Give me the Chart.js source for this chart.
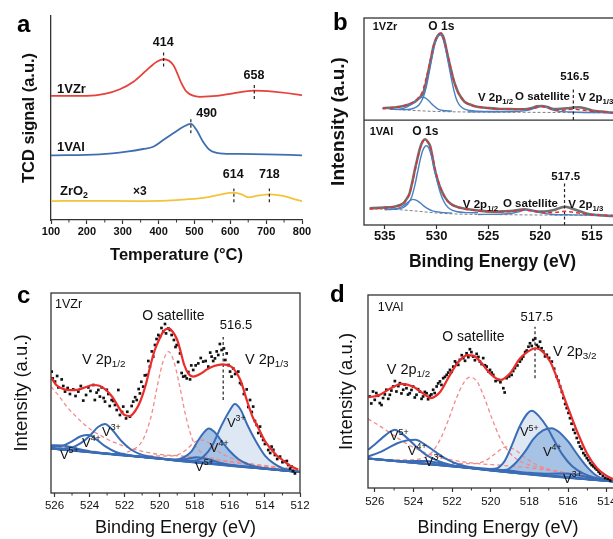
<!DOCTYPE html>
<html><head><meta charset="utf-8">
<script src="https://cdn.jsdelivr.net/npm/chart.js@4.4.1/dist/chart.umd.min.js"></script>
<style>
html,body{margin:0;padding:0;background:#fff;overflow:hidden;width:613px;height:539px;position:relative;}
canvas{position:absolute;}
</style></head>
<body>
<canvas id="ca" width="315" height="270" style="left:0;top:0;width:315px;height:270px"></canvas>
<canvas id="cb" width="330" height="275" style="left:300px;top:0;width:330px;height:275px"></canvas>
<canvas id="cc" width="310" height="269" style="left:0;top:270px;width:310px;height:269px"></canvas>
<canvas id="cd" width="340" height="269" style="left:300px;top:270px;width:340px;height:269px"></canvas>
<script>
// ================= DATA =================
// ---- Panel a : H2-TPR (x = temperature, y = TCD signal a.u.)
const aTicks = [100,200,300,400,500,600,700,800];
const aMinor = [150,250,350,450,550,650,750];
const a1VZr = [[100,60.8],[200,60.8],[250,61.8],[292,64.1],[330,67.8],[367,73.5],[395,77.6],[414,78.8],[441,76.0],[464,67.0],[478,62.9],[515,60.4],[562,60.8],[608,62.1],[665,63.4],[720,62.9],[794,61.3],[800,61.1]];
const a1VAl = [[100,31.7],[236,32.2],[311,33.5],[357,34.8],[385,35.9],[413,39.2],[441,42.5],[469,45.7],[490,47.1],[506,44.1],[524,38.4],[543,34.3],[571,32.7],[627,32.4],[701,32.2],[800,31.7]];
const aZrO2 = [[100,9.3],[200,9.4],[330,9.3],[423,9.5],[478,10.1],[534,11.1],[571,12.4],[608,13.4],[632,12.6],[650,11.1],[673,11.8],[711,12.6],[748,11.8],[776,10.4],[800,9.3]];
const aPeakMarks = [[414,75.2,82.5],[667,59.3,67],[490,42.5,49.9],[610,8.7,15.5],[709,8.7,15.5]];
const aLabels = [
  {t:'1VZr', x:116.7, y:64.2, size:13, weight:'bold'},
  {t:'1VAl', x:116.7, y:35.8, size:13, weight:'bold'},
  {t:'ZrO_{2}', x:125, y:14.2, size:13, weight:'bold'},
  {t:'×3', x:348, y:13.7, size:12, weight:'bold', align:'center'},
  {t:'414', x:413, y:86.9, size:12.5, weight:'bold', align:'center'},
  {t:'658', x:666, y:70.6, size:12.5, weight:'bold', align:'center'},
  {t:'490', x:534, y:52, size:12.5, weight:'bold', align:'center'},
  {t:'614', x:608, y:22.1, size:12.5, weight:'bold', align:'center'},
  {t:'718', x:709, y:22.1, size:12.5, weight:'bold', align:'center'}
];

// ---- Panel b : XPS O1s + V2p survey (top 1VZr offset, bottom 1VAl)
const bTicks = [515,520,525,530,535];
const bTopTotal = [[535.2,112.8],[534.5,113.3],[533.9,113.7],[533.2,115],[532.6,116.6],[532.1,119],[531.8,121.4],[531.5,124.5],[531.3,127.2],[531.05,136],[530.8,148.1],[530.55,160],[530.3,172.3],[530.1,178.5],[529.9,182.6],[529.6,185.2],[529.3,180.4],[529.1,172],[528.9,162.6],[528.65,152],[528.4,141.7],[528.15,134],[527.9,127.8],[527.6,123],[527.3,119.1],[526.7,116.2],[526.1,114.3],[525,113],[523.9,112.1],[522.5,111.9],[521.6,111.8],[520.8,113],[520.3,114.6],[519.8,115],[519.3,114],[518.7,112.1],[518,112.3],[517.4,112.8],[516.8,113.5],[516.3,113.7],[515.6,112.5],[514.9,110.4],[514,109.5],[513,108.5],[512.2,108.2]];
const bTopFit = [[535.2,112.5],[534,113.5],[533,115.5],[532.3,118.5],[531.8,122.5],[531.4,128],[531.1,138],[530.8,150],[530.5,164],[530.2,176],[529.9,183],[529.6,185],[529.3,180],[529,168],[528.7,154],[528.4,142],[528.1,132],[527.8,125.5],[527.4,120],[526.8,116.3],[526,114],[525,112.8],[523.5,112],[522,111.6],[521,112.2],[520.3,113.6],[519.8,114.2],[519.2,113],[518.5,110.8],[517.5,111.2],[516.8,111.8],[516,111.2],[515,110],[514,109.2],[512.2,108.4]];
const bTopMain = [[534.5,111.9],[533,111.5],[532.2,112.8],[531.7,116],[531.3,123],[531,133],[530.7,148],[530.4,164],[530.1,177],[529.8,183],[529.6,183.5],[529.35,179],[529.1,169],[528.85,156],[528.6,143],[528.35,131],[528.1,122],[527.8,116],[527.4,112.5],[526.8,110.6],[526,110],[524,109.6]];
const bTopShoulder = [[534,111.5],[533.3,112.3],[532.8,114.3],[532.3,117.5],[531.9,121],[531.55,123.2],[531.3,123.4],[531.0,122.2],[530.7,119.5],[530.3,115.5],[529.9,112.3],[529.4,110.6],[528.5,110]];
const bTopSat = [[527,109.3],[523,109.4],[521.8,110.0],[521,111.2],[520.4,113.2],[519.9,114.6],[519.4,113.6],[518.9,111.5],[518.3,110],[517,109.2],[512.2,108.4]];
const bTopBg = [[535.2,112.6],[533,111.1],[530,109.7],[527,109.2],[520,108.8],[512.2,108.3]];
const bBotTotal = [[536.45,16.1],[535.5,16.6],[534.8,17],[534.2,17.4],[533.6,19],[533.2,21],[532.9,25],[532.6,30.6],[532.35,41],[532.1,53.1],[531.85,64],[531.6,74.1],[531.35,80.5],[531.1,82.8],[530.85,80.5],[530.6,75.7],[530.4,66],[530.2,54.8],[529.85,42],[529.5,32.9],[529.1,25.5],[528.7,21],[528,17.5],[527.1,15.5],[526,14],[524.5,12.9],[523.5,13.2],[522.6,13.8],[522,14.8],[521.5,15.2],[520.8,14],[520,12.9],[519.3,13.3],[518.7,14.5],[518.1,16.5],[517.6,17.7],[517.1,16.5],[516.5,14.5],[515.9,12.3],[515.2,10.3],[514.4,9.5],[513.6,9],[512.2,8.5]];
const bBotFit = [[536.45,15.8],[535,16.4],[534,17.5],[533.3,20],[532.9,24.5],[532.6,30.5],[532.3,42],[532,56],[531.7,70],[531.4,79.5],[531.15,82.5],[530.9,81],[530.65,76],[530.4,67],[530.15,55],[529.85,43],[529.5,33],[529.1,25],[528.6,20],[528,17],[527,15],[525.5,13.2],[524,12.6],[523,12.9],[522.2,13.6],[521.5,14.4],[520.8,13.6],[520,12.3],[519,11.8],[518,12.8],[517.5,13.2],[517,12.6],[516,11],[515,9.8],[513.5,9.2],[512.2,8.8]];
const bBotMain = [[535,15.2],[533.8,15.4],[533.3,16.5],[532.8,20],[532.4,27],[532.1,38],[531.85,50],[531.6,62],[531.35,71.5],[531.1,76],[530.95,76.6],[530.75,74.5],[530.5,67],[530.25,56],[530,45],[529.75,35],[529.45,26],[529.1,19.5],[528.7,15.5],[528.1,13],[527.2,12],[526,11.8]];
const bBotShoulder = [[535,14.8],[534.2,15.2],[533.6,16.6],[533.2,18.6],[532.8,21.6],[532.5,23.9],[532.3,24.8],[532.05,24.3],[531.7,22.4],[531.3,19],[530.9,16],[530.4,13.7],[529.6,12.2],[528.5,11.5]];
const bBotSat = [[526,10.2],[523.5,10.6],[522.6,11.6],[522,13],[521.4,14.6],[520.9,14.2],[520.3,12.6],[519.6,11.2],[518.8,10.2],[517,9.8],[515,9.5],[512.2,9.2]];
const bBotBg = [[536.45,15.5],[534,15],[532,13.5],[530,11.6],[528,10.6],[524,10],[512.2,9.2]];
const bPeakMarks = [[516.8,101.4,133],[517.65,0,40]];
const bDivider = 101.4;
const bLabels = [
  {t:'1VZr', x:536.16, y:191.3, size:11, weight:'bold'},
  {t:'O 1s', x:529.54, y:191.6, size:12, weight:'bold', align:'center'},
  {t:'V 2p_{1/2}', x:526.0, y:122.7, size:11.5, weight:'bold'},
  {t:'O satellite', x:522.43, y:123.7, size:11.5, weight:'bold'},
  {t:'V 2p_{1/3}', x:516.33, y:122.7, size:11.5, weight:'bold'},
  {t:'516.5', x:516.67, y:143, size:11.5, weight:'bold', align:'center'},
  {t:'1VAl', x:536.45, y:89.9, size:11, weight:'bold'},
  {t:'O 1s', x:531.08, y:89.9, size:12, weight:'bold', align:'center'},
  {t:'V 2p_{1/2}', x:527.46, y:19.3, size:11.5, weight:'bold'},
  {t:'O satellite', x:523.59, y:20.3, size:11.5, weight:'bold'},
  {t:'V 2p_{1/3}', x:517.3, y:19.3, size:11.5, weight:'bold'},
  {t:'517.5', x:517.54, y:46.4, size:11.5, weight:'bold', align:'center'}
];

// ---- Panel c : 1VZr V2p
const cTicks = [512,514,516,518,520,522,524,526];
const cMinor = [513,515,517,519,521,523,525];
const cPoints = [[526.16,60.7],[526.10,57.3],[525.97,55.7],[525.85,58.5],[525.78,52.8],[525.59,56.8],[525.5,53.5],[525.40,50.7],[525.25,52.5],[525.12,49.5],[524.93,51.8],[524.8,48.5],[524.64,50.7],[524.5,53.5],[524.36,46.2],[524.2,49],[524.07,52.8],[523.95,51],[523.79,54],[523.7,46.5],[523.6,50.2],[523.5,51.5],[523.41,48.2],[523.31,52.8],[523.2,47.5],[523.12,45.7],[523.02,51.6],[522.93,49.5],[522.85,43.5],[522.74,46.5],[522.65,46],[522.55,44],[522.45,41.5],[522.36,51.5],[522.27,39],[522.15,40.5],[522.08,43.2],[521.92,37.3],[521.85,40.6],[521.70,38.2],[521.6,43.5],[521.51,45.7],[521.4,47.9],[521.31,46.5],[521.2,52],[521.13,49.8],[521.05,55.6],[520.94,53.2],[520.85,58.8],[520.74,59],[520.65,66],[520.56,63.2],[520.45,70.8],[520.37,68.2],[520.27,74],[520.18,77],[520.08,79],[519.99,78.2],[519.9,82.5],[519.80,80.7],[519.7,84.5],[519.64,79.8],[519.51,82.3],[519.42,81.5],[519.32,79],[519.19,76.5],[519.1,73],[519.03,74],[518.95,65.5],[518.84,69.8],[518.75,60],[518.66,58.2],[518.55,58.5],[518.46,57.3],[518.37,60.5],[518.27,56.8],[518.2,63.8],[518.09,61.5],[517.95,63.8],[517.80,64.8],[517.66,67.5],[517.52,65.7],[517.38,66],[517.23,63.2],[517.12,70.2],[517.04,68.2],[516.95,66],[516.85,67.3],[516.75,70.8],[516.66,69],[516.57,74.5],[516.47,71.5],[516.34,72.3],[516.26,66.5],[516.18,69.8],[516.08,64],[515.99,60.7],[515.9,58.2],[515.81,62.3],[515.7,59.5],[515.52,60.7],[515.42,55],[515.33,54.3],[515.2,49.5],[515.04,51.8],[514.95,43],[514.85,46.5],[514.75,40.5],[514.67,43.2],[514.57,36],[514.47,34],[514.38,30],[514.28,33.2],[514.2,28.5],[514.10,26.5],[514.0,24.5],[513.81,21.5],[513.7,20],[513.62,23.2],[513.52,21.6],[513.43,19],[513.3,17],[513.14,18.2],[513.0,15.4],[512.86,15.7],[512.75,16],[512.67,14],[512.56,12.2],[512.48,13.2],[512.4,11],[512.29,9.8]];
const cFit = [[526.2,58],[525.9,54],[525.5,52],[525.1,51.4],[524.7,51.6],[524.2,53],[523.8,54],[523.4,53.5],[523.0,51],[522.7,48],[522.3,42.3],[522.0,39],[521.7,38.5],[521.4,41],[521.1,46],[520.8,54],[520.55,63],[520.3,71],[520.0,77.3],[519.75,81.2],[519.5,82.3],[519.25,80.5],[519.0,76.5],[518.8,70.5],[518.6,64],[518.35,59.5],[518.1,58.2],[517.7,59.5],[517.3,61.8],[516.9,63.5],[516.4,64.3],[516.0,63.5],[515.8,62.3],[515.4,56.5],[515.0,45.5],[514.7,38],[514.4,33],[514.0,26],[513.7,22.5],[513.3,18.5],[513.0,16.5],[512.6,13.8],[512.1,11.8]];
const cBase = [[526.2,22.3],[519,16.4],[512,10.5]];
const cV3 = [[526.2,22.3],[520,17.2],[518.5,15.9],[518,16],[517.5,18.2],[517,23.7],[516.5,33.3],[516,41.4],[515.72,44.5],[515.4,41.9],[515,34],[514.5,25.6],[514,18.7],[513.5,14.8],[513,12.4],[512.2,10.8],[512,10.5]];
const cV4 = [[526.2,22.3],[520,17.2],[519.2,16.7],[518.7,17.5],[518.2,20.7],[517.8,26.4],[517.5,30.1],[517.2,32.3],[516.9,30.7],[516.5,26.3],[516,20.9],[515.5,16.9],[515,14.5],[514.3,12.7],[513.5,11.8],[512,10.5]];
const cV5 = [[526.2,22.3],[520,17.2],[519,16.5],[518.5,17],[517.9,17.9],[517.2,16.9],[516.5,15],[515.5,13.5],[514,12.2],[512,10.5]];
const cV3b = [[526.2,22.3],[525.5,22.2],[525,22.8],[524.5,24.9],[524,28.5],[523.5,33.1],[523.12,34.5],[522.7,31.5],[522.2,26.1],[521.7,22.1],[521.2,19.7],[520.5,18.1],[519.5,16.8],[512,10.5]];
const cV4b = [[526.2,22.9],[525.5,23.7],[525,25.8],[524.5,28.4],[524.07,29],[523.6,26.7],[523.1,23.3],[522.5,20.5],[521.8,19],[520.5,17.6],[512,10.5]];
const cV5b = [[526.2,23.9],[525.5,23.7],[525,22.8],[524.3,21.4],[523.5,20.1],[522,18.9],[512,10.5]];
const cSatPink = [[526.2,23.5],[524,21.2],[522.5,19.5],[521.7,21],[521.0,26],[520.5,38],[520.1,55],[519.8,66],[519.5,70.7],[519.2,66],[518.9,55],[518.5,38],[518.1,26],[517.6,20],[517,17.5],[516,15.5],[514,13],[512,11.2]];
const cBroadPink = [[526.2,53.2],[525.7,48],[525.3,43.2],[524.8,38.5],[524.36,34.8],[523.9,31.5],[523.41,29],[522.9,26.5],[522.45,24.8],[521.9,23],[521.3,21.5],[520.2,19.5],[518.8,18.5],[517.5,17.2],[515.5,15.3],[513.5,13.2],[512,11.8]];
const cSmallPink = [[521,18.5],[519.5,18.5],[519,19],[518.5,21.5],[518,25.5],[517.6,26.5],[517.2,25],[516.7,21],[516.2,18.5],[515.5,16.3],[514.5,14],[513,12],[512,11]];
const cPeakMarks = [[516.38,46.5,78]];
const cLabels = [
  {t:'1VZr', x:525.97, y:94, size:12.5},
  {t:'O satellite', x:519.22, y:88.5, size:14, align:'center'},
  {t:'516.5', x:515.65, y:84, size:13, align:'center'},
  {t:'V 2p_{1/2}', x:524.43, y:66.5, size:14.5},
  {t:'V 2p_{1/3}', x:515.14, y:66.5, size:14.5},
  {t:'V^{3+}', x:516.17, y:35, size:13},
  {t:'V^{4+}', x:517.14, y:22.5, size:13},
  {t:'V^{5+}', x:517.99, y:13, size:13},
  {t:'V^{3+}', x:523.29, y:30.5, size:13},
  {t:'V^{4+}', x:524.43, y:25, size:13},
  {t:'V^{5+}', x:525.69, y:19, size:13}
];

// ---- Panel d : 1VAl V2p
const dTicks = [514,516,518,520,522,524,526];
const dMinor = [513,515,517,519,521,523,525];
const dPoints = [[526.26,47.4],[526.18,43.8],[526.09,50],[526.0,45.7],[525.92,49.2],[525.83,47.8],[525.74,44],[525.65,43],[525.57,46.6],[525.48,48.5],[525.4,50.9],[525.3,46.2],[525.22,48.3],[525.14,50.5],[525.05,52.6],[524.96,55.4],[524.88,50],[524.78,52.8],[524.7,54.3],[524.62,49],[524.53,50.9],[524.45,53.6],[524.36,51.7],[524.28,48.4],[524.19,49.1],[524.1,50.8],[524.02,52.6],[523.93,46.9],[523.84,48.3],[523.76,51.2],[523.67,50],[523.58,46.2],[523.5,47.4],[523.41,49.8],[523.32,49.1],[523.24,46],[523.15,47.8],[523.07,48.5],[522.98,50.9],[522.9,49.2],[522.8,52.6],[522.72,54.2],[522.63,55.2],[522.55,53.4],[522.46,56.9],[522.37,57.6],[522.28,58.6],[522.2,59.8],[522.11,61.2],[522.02,60.2],[521.94,62.9],[521.85,65.6],[521.77,64.7],[521.68,63.8],[521.6,66.4],[521.5,68.8],[521.42,67.3],[521.33,65.9],[521.25,69.8],[521.16,67.8],[521.08,71.9],[521.0,70.4],[520.91,68.1],[520.82,66.2],[520.73,69.5],[520.64,67.9],[520.56,65.5],[520.47,64.2],[520.39,67.3],[520.3,63.6],[520.21,62.9],[520.12,60.4],[520.04,61.2],[519.95,59.8],[519.87,58.6],[519.75,55.4],[519.61,56],[519.5,54.8],[519.35,51.7],[519.28,49.5],[519.18,56.9],[519.05,57.8],[518.92,58.6],[518.84,60.6],[518.75,62.1],[518.62,63.5],[518.49,65.5],[518.4,66.8],[518.32,68.1],[518.22,70.4],[518.14,71.2],[518.05,73.2],[517.97,75],[517.88,73.6],[517.8,76.7],[517.7,77.5],[517.62,74.1],[517.54,73.2],[517.45,75.8],[517.37,72.4],[517.28,70.7],[517.19,68.2],[517.1,69.0],[516.98,67.4],[516.84,65.5],[516.72,61.8],[516.59,57.7],[516.5,55.6],[516.41,52.6],[516.32,49.8],[516.24,46.6],[516.15,43.5],[516.07,41.4],[515.98,38.9],[515.9,36.2],[515.82,33.3],[515.73,30.2],[515.64,28.5],[515.55,25.9],[515.46,23.6],[515.38,21.5],[515.3,20.3],[515.21,18.1],[515.12,16.9],[515.03,15.5],[514.95,14.4],[514.86,12.9],[514.78,11.9],[514.69,11.2],[514.6,10.3],[514.51,9.5],[514.42,8.4],[514.34,7.4],[514.2,6.3],[514.08,5.2],[513.95,4.8],[513.82,3.9]];
const dFit = [[526.3,47],[525.8,48],[525.2,51.5],[524.6,54],[524.0,52.5],[523.5,49],[523.1,46.6],[522.6,50],[522.2,57],[521.7,65],[521.2,68.8],[520.9,68.6],[520.5,65],[520.0,59],[519.5,56],[519.0,59.5],[518.5,67],[518.1,70.5],[517.7,72.4],[517.3,70.5],[516.9,65],[516.5,55],[516.0,41.5],[515.5,28.5],[515.0,17.5],[514.5,10.3],[514.0,6.3],[513.5,4],[513.0,3]];
const dBase = [[526.35,15.3],[513.65,3.4],[512.9,2.7]];
const dV5 = [[526.35,15.3],[521,10.3],[520.5,9.9],[519.8,10.0],[519.3,13.7],[518.9,22.3],[518.5,32.0],[518.1,38.6],[517.88,40.0],[517.5,37.1],[517.1,31.7],[516.7,24.3],[516.3,17.4],[515.8,11.4],[515.2,7.4],[514.5,4.9],[513.65,3.4],[512.9,2.7]];
const dV4 = [[526.35,15.3],[521,10.3],[519.8,9.2],[519.2,9.4],[518.7,13.1],[518.2,19.2],[517.8,25.3],[517.3,29.8],[516.85,31.0],[516.4,28.4],[516.0,24.1],[515.5,17.1],[515.0,10.7],[514.5,6.2],[514.0,4.2],[513.3,3.1],[512.9,2.7]];
const dV3 = [[526.35,15.3],[519,8.9],[518,7.9],[517,7.4],[516.1,7.5],[515.2,6.1],[514.3,4.3],[513.65,3.4],[512.9,2.7]];
const dV5b = [[526.35,19.8],[526.0,22.5],[525.6,26.1],[525.2,29.2],[524.96,30.2],[524.6,28.2],[524.2,24.8],[523.8,20.9],[523.3,16.9],[522.7,13.9],[522.0,11.8],[521,10.3],[512.9,2.7]];
const dV4b = [[526.35,16.3],[525.8,18.3],[525.3,20.8],[524.8,23.3],[524.3,24.7],[523.9,25],[523.4,22.5],[522.9,19],[522.4,15.6],[521.9,13.1],[521.3,11.3],[520.5,9.8],[512.9,2.7]];
const dV3b = [[526.35,15.3],[524.5,13.9],[523.4,14.0],[522.3,12.2],[521.3,10.6],[512.9,2.7]];
const dSatPink = [[526.35,15],[524.5,14.5],[523.5,15.5],[523.0,19],[522.6,25.5],[522.2,35],[521.8,46],[521.4,54.5],[521.08,57.4],[520.7,55],[520.3,46],[519.9,35],[519.5,25.5],[519.0,18],[518.5,14],[517.5,10.5],[516,7.5],[514,4.5],[512.9,3.3]];
const dBroadPink = [[526.35,35.8],[525.8,32.5],[525.2,28.5],[524.6,24.5],[524,21],[523.3,18],[522.5,15.5],[521.6,13.8],[520.5,12.5],[519.5,11.8],[518,10.4],[516,7.8],[514,5],[512.9,3.6]];
const dSmallPink = [[522,12.8],[521,12.6],[520.3,14],[519.8,17.5],[519.2,21.3],[518.7,19.5],[518.2,15.5],[517.6,12],[517,9.8],[516,7.5],[515,5.5],[513.65,3.6],[512.9,3]];
const dPeakMarks = [[517.71,56.9,83.6]];
const dLabels = [
  {t:'1VAl', x:525.84, y:93.3, size:12.5},
  {t:'O satellite', x:520.9, y:78.3, size:14, align:'center'},
  {t:'517.5', x:517.62, y:88.6, size:13, align:'center'},
  {t:'V 2p_{1/2}', x:525.38, y:61.2, size:14.5},
  {t:'V 2p_{3/2}', x:516.78, y:70.5, size:14.5},
  {t:'V^{5+}', x:518.49, y:28.6, size:13},
  {t:'V^{4+}', x:517.3, y:18.3, size:13},
  {t:'V^{3+}', x:516.26, y:4.3, size:13},
  {t:'V^{5+}', x:525.22, y:26.5, size:13},
  {t:'V^{4+}', x:524.29, y:18.8, size:13},
  {t:'V^{3+}', x:523.41, y:13.1, size:13}
];

// ================= HELPERS =================
const FONT = "'Liberation Sans', Arial, Helvetica, sans-serif";
const RED = '#ec2b2b', PINK = '#f18a8a', BLUE = '#3a6db5';
const FILL_L = '#dee8f5', FILL_M = '#a6c2e5', FILL_D = '#7fa4d5';

function pts(arr){ return arr.map(p => ({x:p[0], y:p[1]})); }
function curve(arr, color, width, extra){
  return Object.assign({type:'line', data:pts(arr), borderColor:color, backgroundColor:color, borderWidth:width,
    pointRadius:0, fill:false, cubicInterpolationMode:'monotone'}, extra || {});
}
function marks(list){
  return list.map(m => ({type:'line', data:[{x:m[0],y:m[1]},{x:m[0],y:m[2]}], borderColor:'#222', borderWidth:1.2,
    borderDash:[3,2.5], pointRadius:0, fill:false, tension:0, cubicInterpolationMode:'default', order:0}));
}
function scatter(arr){
  return {type:'line', showLine:false, data:pts(arr), pointRadius:1.9, pointStyle:'rect', pointBackgroundColor:'#111',
    pointBorderWidth:0, borderColor:'#111', backgroundColor:'#111', order:1};
}
function fixAxis(size){ return s => { if (s.isHorizontal()) s.height = size; else s.width = size;
  s.paddingLeft = 0; s.paddingRight = 0; s.paddingTop = 0; s.paddingBottom = 0; }; }
function setTicks(vals){ return s => { s.ticks = vals.map(v => ({value:v})); }; }

function parseRich(str){
  const out = []; const re = /([_^])\{([^}]*)\}|([^_^]+)/g; let m;
  while ((m = re.exec(str))) { if (m[3]) out.push({t:m[3]}); else out.push({t:m[2], sub:m[1]==='_', sup:m[1]==='^'}); }
  return out;
}
function rich(ctx, str, x, y, size, weight, align, color){
  const parts = parseRich(str);
  ctx.save(); ctx.fillStyle = color || '#111'; ctx.textBaseline = 'middle'; ctx.textAlign = 'left';
  const segs = parts.map(p => { const small = p.sub || p.sup;
    const f = weight + ' ' + (small ? size*0.68 : size) + 'px ' + FONT; ctx.font = f;
    return {t:p.t, f:f, w:ctx.measureText(p.t).width, dy: p.sub ? size*0.32 : (p.sup ? -size*0.36 : 0)}; });
  const total = segs.reduce((a,s) => a + s.w, 0);
  let cx = align === 'center' ? x - total/2 : (align === 'right' ? x - total : x);
  segs.forEach(s => { ctx.font = s.f; ctx.fillText(s.t, cx, y + s.dy); cx += s.w; });
  ctx.restore();
}
function deco(cfg){
  return { id:'deco', afterDraw(chart){
    const ctx = chart.ctx, a = chart.chartArea, xs = chart.scales.x, ys = chart.scales.y;
    ctx.save(); ctx.strokeStyle = '#333'; ctx.lineWidth = 1.3;
    if (cfg.box) ctx.strokeRect(a.left, a.top, a.right - a.left, a.bottom - a.top);
    if (cfg.divider != null) { const yy = ys.getPixelForValue(cfg.divider);
      ctx.beginPath(); ctx.moveTo(a.left, yy); ctx.lineTo(a.right, yy); ctx.stroke(); }
    if (cfg.minor) { ctx.lineWidth = 1; cfg.minor.forEach(v => { const px = xs.getPixelForValue(v);
      ctx.beginPath(); ctx.moveTo(px, a.bottom); ctx.lineTo(px, a.bottom + 2.5); ctx.stroke(); }); }
    ctx.restore();
    (cfg.labels || []).forEach(l => rich(ctx, l.t, xs.getPixelForValue(l.x), ys.getPixelForValue(l.y), l.size, l.weight || 'normal', l.align || 'left'));
    if (cfg.letter) { ctx.save(); ctx.font = 'bold 24px ' + FONT; ctx.fillStyle = '#000'; ctx.textBaseline = 'alphabetic';
      ctx.fillText(cfg.letter.t, cfg.letter.x, cfg.letter.y); ctx.restore(); }
  }};
}
function makeChart(id, o){
  return new Chart(document.getElementById(id), {
    type:'line',
    data:{datasets:o.datasets},
    options:{
      responsive:false, animation:false, events:[], devicePixelRatio: window.devicePixelRatio || 1,
      layout:{padding:o.padding},
      plugins:{legend:{display:false}, tooltip:{enabled:false}, filler:{drawTime:'beforeDatasetsDraw'}},
      scales:{
        x:{type:'linear', min:o.xmin, max:o.xmax, reverse:!!o.reverse,
          afterFit:fixAxis(o.xh), afterBuildTicks:setTicks(o.ticks),
          grid:{display:true, drawOnChartArea:false, drawTicks:true, tickLength:4, tickColor:'#333', tickWidth:1.2},
          border:{display:!o.box, color:'#333', width:1.3},
          ticks:{autoSkip:false, maxRotation:0, minRotation:0, padding:o.tickPad, color:'#111',
            font:{family:FONT, size:o.tickSize, weight:o.tickWeight}, callback:v => String(v)},
          title:{display:true, text:o.xtitle, color:'#111', font:{family:FONT, size:o.xtSize, weight:o.xtWeight},
            padding:{top:0, bottom:o.xtPad}}},
        y:{type:'linear', min:o.ymin, max:o.ymax, afterFit:fixAxis(o.yw),
          grid:{display:false}, ticks:{display:false},
          border:{display:!o.box, color:'#333', width:1.3},
          title:{display:true, text:o.ytitle, color:'#111', font:{family:FONT, size:o.ytSize, weight:o.ytWeight},
            padding:{top:o.ytPad, bottom:0}}}
      }
    },
    plugins:[deco(o.deco)]
  });
}

// ================= PANEL a =================
makeChart('ca', {
  datasets:[
    curve(a1VZr, '#e8403a', 1.8, {order:2}),
    curve(a1VAl, '#3f6fb0', 1.8, {order:2}),
    curve(aZrO2, '#f3c43a', 1.8, {order:2})
  ].concat(marks(aPeakMarks)),
  padding:{left:0, top:16, right:13, bottom:0}, xmin:100, xmax:800, ymin:0, ymax:100,
  ticks:aTicks, xh:50, yw:51, tickPad:1, tickSize:11, tickWeight:'bold',
  xtitle:'Temperature (°C)', xtSize:16.5, xtWeight:'bold', xtPad:5,
  ytitle:'TCD signal (a.u.)', ytSize:16.5, ytWeight:'bold', ytPad:20,
  deco:{minor:aMinor, labels:aLabels, letter:{t:'a', x:17, y:32}}
});

// ================= PANEL b =================
makeChart('cb', {
  datasets:[
    curve(bTopFit, '#e53030', 1.5, {borderDash:[4,3], order:0}),
    curve(bBotFit, '#e53030', 1.5, {borderDash:[4,3], order:0}),
    curve(bTopTotal, '#707070', 2.6, {order:4}),
    curve(bBotTotal, '#707070', 2.6, {order:4}),
    curve(bTopMain, '#4a7fc1', 1.4, {order:1}),
    curve(bTopShoulder, '#4a7fc1', 1.4, {order:1}),
    curve(bTopSat, '#4a7fc1', 1.4, {order:1}),
    curve(bBotMain, '#4a7fc1', 1.4, {order:1}),
    curve(bBotShoulder, '#4a7fc1', 1.4, {order:1}),
    curve(bBotSat, '#4a7fc1', 1.4, {order:1}),
    curve(bTopBg, '#808080', 1, {borderDash:[3,2], order:3}),
    curve(bBotBg, '#808080', 1, {borderDash:[3,2], order:3})
  ].concat(marks(bPeakMarks)),
  padding:{left:0, top:18, right:9, bottom:0}, xmin:512.2, xmax:537, reverse:true, ymin:0, ymax:200, box:true,
  ticks:bTicks, xh:50, yw:64, tickPad:0, tickSize:13, tickWeight:'bold',
  xtitle:'Binding Energy (eV)', xtSize:17.5, xtWeight:'bold', xtPad:2.5,
  ytitle:'Intensity (a.u.)', ytSize:19, ytWeight:'bold', ytPad:27,
  deco:{box:true, divider:bDivider, labels:bLabels, letter:{t:'b', x:33, y:30}}
});

// ================= PANEL c =================
makeChart('cc', {
  datasets:[
    curve(cFit, RED, 2.2, {order:0}),                 // 0
    scatter(cPoints),                                  // 1
    curve(cBase, BLUE, 2, {order:2}),                  // 2
    curve(cV3, BLUE, 2, {fill:2, backgroundColor:FILL_L, order:6}),  // 3
    curve(cV4, BLUE, 2, {fill:2, backgroundColor:FILL_M, order:5}),  // 4
    curve(cV5, BLUE, 2, {fill:2, backgroundColor:FILL_D, order:4}),  // 5
    curve(cV3b, BLUE, 2, {order:3}),
    curve(cV4b, BLUE, 2, {order:3}),
    curve(cV5b, BLUE, 2, {order:3}),
    curve(cSatPink, PINK, 1.3, {borderDash:[4,3], order:7}),
    curve(cBroadPink, PINK, 1.3, {borderDash:[4,3], order:7}),
    curve(cSmallPink, PINK, 1.3, {borderDash:[4,3], order:7})
  ].concat(marks(cPeakMarks)),
  padding:{left:0, top:23, right:10, bottom:0}, xmin:512, xmax:526.2, reverse:true, ymin:0, ymax:100, box:true,
  ticks:cTicks, xh:46, yw:51, tickPad:2, tickSize:11.5, tickWeight:'normal',
  xtitle:'Binding Energy (eV)', xtSize:18, xtWeight:'normal', xtPad:0,
  ytitle:'Intensity (a.u.)', ytSize:18.5, ytWeight:'normal', ytPad:11,
  deco:{box:true, minor:cMinor, labels:cLabels, letter:{t:'c', x:17, y:33}}
});

// ================= PANEL d =================
makeChart('cd', {
  datasets:[
    curve(dFit, RED, 2.2, {order:0}),                 // 0
    scatter(dPoints),                                  // 1
    curve(dBase, BLUE, 2, {order:2}),                  // 2
    curve(dV5, BLUE, 2, {fill:2, backgroundColor:FILL_L, order:6}),  // 3
    curve(dV4, BLUE, 2, {fill:2, backgroundColor:FILL_M, order:5}),  // 4
    curve(dV3, BLUE, 2, {fill:2, backgroundColor:FILL_D, order:4}),  // 5
    curve(dV5b, BLUE, 2, {order:3}),
    curve(dV4b, BLUE, 2, {order:3}),
    curve(dV3b, BLUE, 2, {order:3}),
    curve(dSatPink, PINK, 1.3, {borderDash:[4,3], order:7}),
    curve(dBroadPink, PINK, 1.3, {borderDash:[4,3], order:7}),
    curve(dSmallPink, PINK, 1.3, {borderDash:[4,3], order:7})
  ].concat(marks(dPeakMarks)),
  padding:{left:0, top:25, right:12, bottom:0}, xmin:512.9, xmax:526.35, reverse:true, ymin:0, ymax:100, box:true,
  ticks:dTicks, xh:51, yw:68, tickPad:3, tickSize:11.5, tickWeight:'normal',
  xtitle:'Binding Energy (eV)', xtSize:18, xtWeight:'normal', xtPad:0,
  ytitle:'Intensity (a.u.)', ytSize:18.5, ytWeight:'normal', ytPad:35.6,
  deco:{box:true, minor:dMinor, labels:dLabels, letter:{t:'d', x:30, y:32}}
});
</script>
</body></html>
